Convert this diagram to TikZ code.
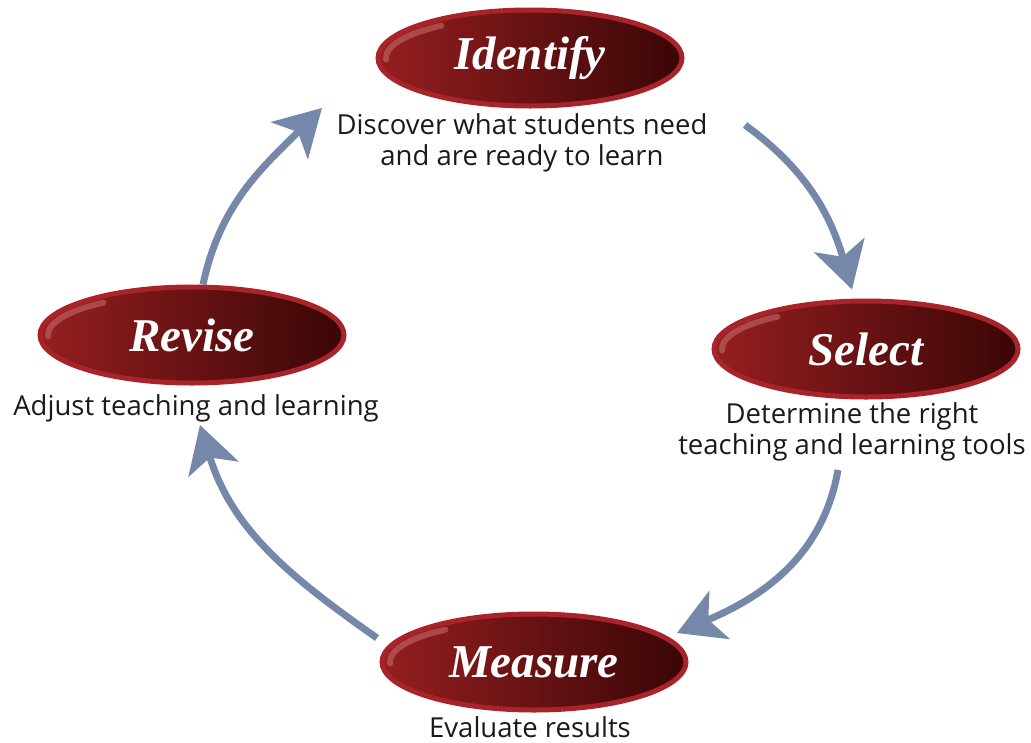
\documentclass[tikz,border=0pt]{standalone}
\usepackage{fontspec}
\setmainfont{Open Sans}
\newfontfamily\titleserif{Liberation Serif}
\usetikzlibrary{shapes.geometric,arrows.meta}
\definecolor{ringred}{HTML}{A8242A}
\definecolor{ovl}{HTML}{951E20}
\definecolor{ovr}{HTML}{3A0606}
\definecolor{hilite}{HTML}{C87070}
\definecolor{arrowblue}{HTML}{7688AA}
\definecolor{txt}{HTML}{1A1A1A}
\tikzset{
  oval/.style={ellipse, minimum width=304pt, minimum height=96pt, inner sep=0pt,
    draw=ringred, line width=5pt, left color=ovl, right color=ovr,
    text=white, font=\titleserif\bfseries\itshape\fontsize{47}{50}\selectfont,
    path picture={
      \draw[hilite, line width=6pt, line cap=round, opacity=0.55]
        ([shift={(128:144pt and 41pt)}]path picture bounding box.center)
        arc[start angle=128, end angle=182, x radius=144pt, y radius=41pt];
    }},
  desc/.style={align=center, text=txt, font=\fontsize{27.5}{31}\selectfont, inner sep=0pt},
  flow/.style={draw=arrowblue, line width=7pt,
    -{Stealth[length=46pt, width=52pt, inset=12pt, fill=arrowblue]}}
}
\begin{document}
\begin{tikzpicture}[x=1pt,y=1pt]
\useasboundingbox (0,0) rectangle (1031,-742);
\node[oval] (identify) at (530,-58) {Identify};
\node[oval] (select) at (866,-349) {Select};
\node[oval] (revise) at (192,-335) {Revise};
\node[oval] (measure) at (534,-662) {Measure};
\node[desc] (idtext) at (522,-143) {Discover what students need\\and are ready to learn};
\node[desc] (seltext) at (852,-432) {Determine the right\\teaching and learning tools};
\node[desc] (revtext) at (196,-408) {Adjust teaching and learning};
\node[desc] (meatext) at (530,-727) {Evaluate results};
\draw[flow] ([shift={(11pt,0pt)}]revise.north) to[out=78,in=-135] ([shift={(-200pt,35pt)}]idtext.center);
\draw[flow] ([shift={(223pt,18pt)}]idtext.center) to[out=-36,in=106] ([shift={(-14pt,9pt)}]select.north);
\draw[flow] ([shift={(-14pt,-38pt)}]seltext.center) to[out=-100,in=23] ([shift={(143pt,29pt)}]measure.center);
\draw[flow] ([shift={(-157pt,24pt)}]measure.center) to[out=145,in=-73] ([shift={(4pt,-17pt)}]revtext.center);
\end{tikzpicture}
\end{document}
